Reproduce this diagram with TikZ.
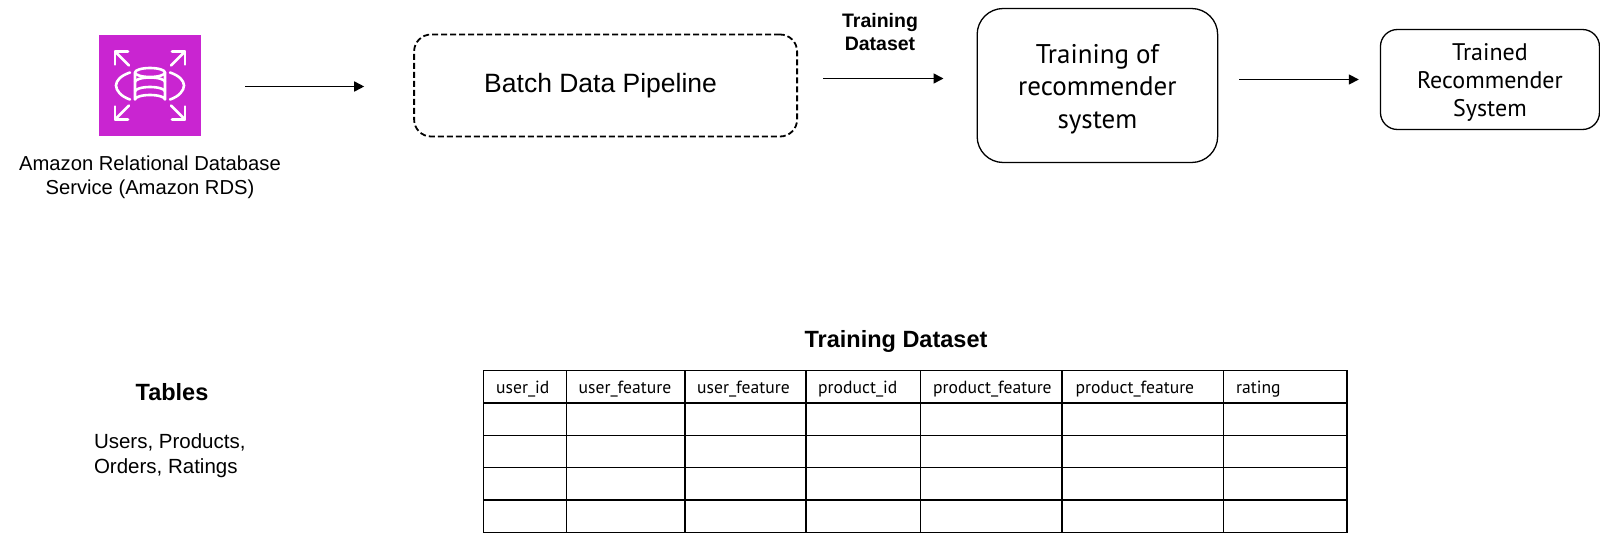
\documentclass[tikz,border=0pt]{standalone}
\usepackage{fontspec}
\setmainfont{Liberation Sans}
\newfontfamily\softfont{PT Sans}
\usetikzlibrary{shapes,arrows,arrows.meta,positioning}
\definecolor{rdspink}{HTML}{C925D1}
\tikzstyle{rdsbox} = [minimum width=102pt, minimum height=101pt, inner sep=0pt, fill=rdspink]
\tikzstyle{dashbox} = [rectangle, rounded corners=17pt, minimum width=383pt, minimum height=102pt, draw=black, line width=1.8pt, dash pattern=on 6pt off 3pt, font=\fontsize{26.5}{31}\selectfont]
\tikzstyle{trainbox} = [rectangle, rounded corners=26pt, minimum width=240.5pt, minimum height=154pt, draw=black, line width=1.3pt, align=center, font=\softfont\fontsize{27}{32.7}\selectfont]
\tikzstyle{donebox} = [rectangle, rounded corners=17pt, minimum width=219pt, minimum height=100pt, draw=black, line width=1.3pt, align=center, font=\softfont\fontsize{24}{28}\selectfont]
\tikzstyle{caption} = [align=center, font=\fontsize{20.2}{24.5}\selectfont]
\tikzstyle{boldcap} = [align=center, font=\bfseries\fontsize{19.5}{23.5}\selectfont]
\tikzstyle{title} = [font=\bfseries\fontsize{23.5}{28}\selectfont]
\tikzstyle{plain} = [align=left, font=\fontsize{20.5}{24.5}\selectfont]
\tikzstyle{head} = [anchor=west, inner sep=0pt, text height=11pt, text depth=3.5pt, font=\softfont\fontsize{17.6}{18}\selectfont]
\tikzstyle{arrow} = [line width=1.6pt,-{Triangle[length=10pt,width=10pt]}]
\tikzstyle{grid} = [line width=1.5pt,line cap=rect]
\tikzstyle{icon} = [white,line width=2.6pt,line cap=round,line join=round]

\begin{document}
\begin{tikzpicture}[x=1pt,y=-1pt]
	\useasboundingbox (0,0) rectangle (1600,535);
	% top row
	\node[rdsbox] (rds) at (150,85.5) {};
	\node[dashbox, right=212pt of rds] (batch) {Batch Data Pipeline\kern10pt};
	\node[trainbox, right=178.5pt of batch] (training) {\rule{0pt}{26pt}Training of\\recommender\\system};
	\node[donebox, right=161.5pt of training, yshift=6pt] (trained) {\rule{0pt}{22pt}Trained\\Recommender\\System};
	\node[caption, below=16pt of rds] (rdsname) {Amazon Relational Database\\Service (Amazon RDS)};
	\node[boldcap] (dslabel) at (880,32) {Training\\Dataset};

	\draw[arrow, shorten <=44pt, shorten >=49pt] ([yshift=-1pt]rds.east) -- ([yshift=-1pt]batch.west);
	\draw[arrow, shorten <=25pt, shorten >=33pt] ([yshift=7pt]batch.east) -- ([yshift=7pt]training.west);
	\draw[arrow, shorten <=21pt, shorten >=21pt] (training.east |- trained.west) -- (trained.west);

	% rds icon
	\begin{scope}[shift={(rds.center)}]
		\draw[icon] (-15,-13) arc[x radius=15, y radius=4.5, start angle=180, end angle=-180];
		\draw[icon] (-15,-13) -- (-15,14) arc[x radius=15, y radius=4.5, start angle=180, end angle=360] -- (15,-13);
		\draw[icon] (-15,-3.5) arc[x radius=15, y radius=4.5, start angle=180, end angle=360];
		\draw[icon] (-15,6) arc[x radius=15, y radius=4.5, start angle=180, end angle=360];
		\draw[icon] (-20,-13) .. controls (-29,-10) and (-34,-5) .. (-34,0) .. controls (-34,5) and (-29,11) .. (-20,14);
		\draw[icon] (20,-13) .. controls (29,-10) and (34,-5) .. (34,0) .. controls (34,5) and (29,11) .. (20,14);
		\foreach \sx/\sy in {-1/-1,1/-1,-1/1,1/1}{
			\draw[icon] (\sx*21,\sy*20) -- (\sx*35,\sy*34);
			\draw[icon] (\sx*22,\sy*34) -- (\sx*35,\sy*34) -- (\sx*35,\sy*21);
		}
	\end{scope}

	% bottom row
	\node[title] (tablestitle) at (172,392.5) {Tables};
	\node[plain, anchor=west] (tablesnames) at (90.5,455.5) {Users, Products,\\Orders, Ratings};
	\node[title] (dstitle) at (896,341.5) {Training Dataset};

	\foreach \y in {370.5,402.9,435.3,467.7,500.1,532.5}
		\draw[grid] (483.5,\y) -- (1347,\y);
	\foreach \x in {483.5,566.5,685,806,920.5,1062,1223.5,1347}
		\draw[grid] (\x,370.5) -- (\x,532.5);
	\foreach \x/\name/\txt in {496/a/user\_id,578.5/b/user\_feature,697/c/user\_feature,818/d/product\_id,933/e/product\_feature,1075.5/f/product\_feature,1236/g/rating}
		\node[head] (col\name) at (\x,389.5) {\txt};
\end{tikzpicture}
\end{document}
